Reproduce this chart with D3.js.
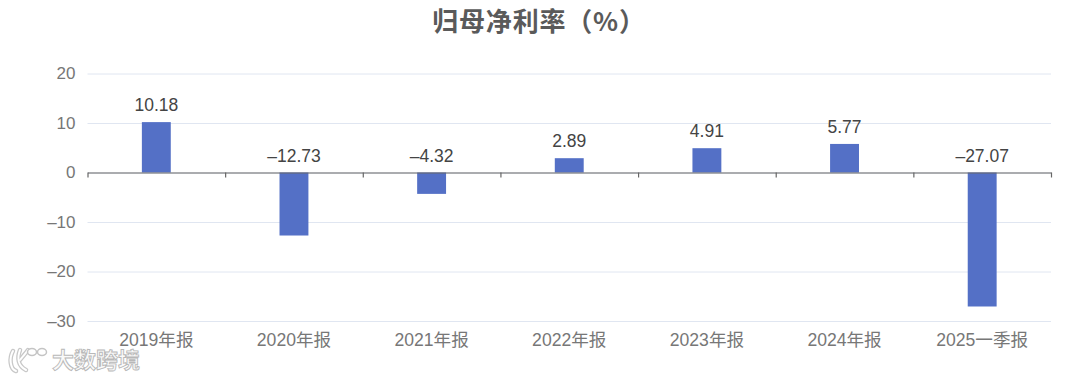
<!DOCTYPE html>
<html>
<head>
<meta charset="utf-8">
<script src="https://cdn.jsdelivr.net/npm/d3@7"></script>
<style>
    html, body { margin: 0; padding: 0; background: #fff; }
    svg { display: block; }
    text { font-family: "Liberation Sans", "Noto Sans CJK SC", sans-serif; }
</style>
</head>
<body>
<svg id="chart" width="1080" height="379"></svg>
<script>
const categories = ['2019年报', '2020年报', '2021年报', '2022年报', '2023年报', '2024年报', '2025一季报'];
const values = [10.18, -12.73, -4.32, 2.89, 4.91, 5.77, -27.07];
const yTicks = [20, 10, 0, -10, -20, -30];
const title = '归母净利率（%）';
const watermark = '大数跨境';

const svg = d3.select('#chart');
const plotLeft = 87.5, plotRight = 1051, plotTop = 73.5, plotBottom = 321;

const x = d3.scaleBand().domain(categories).range([plotLeft, plotRight]).paddingInner(0.79).paddingOuter(0.395);
const y = d3.scaleLinear().domain([-30, 20]).range([plotBottom, plotTop]);
const minus = d => String(d).replace('-', '–');

svg.append('text')
    .attr('x', 539).attr('y', 31)
    .attr('text-anchor', 'middle')
    .style('font-family', '"Noto Sans CJK SC", sans-serif')
    .style('font-size', '26px')
    .style('font-weight', 700)
    .style('letter-spacing', '0.8px')
    .style('fill', '#5a5a5a')
    .text(title);

// grid lines and y labels
const yAxis = svg.append('g')
    .attr('transform', `translate(${plotLeft},0)`)
    .call(d3.axisLeft(y).tickValues(yTicks).tickSize(-(plotRight - plotLeft)).tickPadding(12).tickFormat(minus));
yAxis.select('.domain').remove();
yAxis.selectAll('line').style('stroke', '#e0e6f1').style('stroke-width', 1);
yAxis.selectAll('text').style('font-size', '17px').style('fill', '#777');

// bars
svg.selectAll('rect.bar')
    .data(values)
    .enter().append('rect')
    .attr('class', 'bar')
    .attr('x', (d, i) => x(categories[i]))
    .attr('y', d => y(Math.max(d, 0)))
    .attr('width', x.bandwidth())
    .attr('height', d => Math.abs(y(d) - y(0)))
    .style('fill', '#5470c6');

// zero axis with ticks between the categories
const tickScale = d3.scaleLinear().domain([0, categories.length]).range([plotLeft, plotRight]);
const xTicks = svg.append('g')
    .attr('transform', `translate(0,${y(0)})`)
    .call(d3.axisBottom(tickScale).tickValues(d3.range(categories.length + 1)).tickSize(5).tickSizeOuter(0).tickFormat(''));
xTicks.selectAll('line, path').style('stroke', '#666').style('stroke-width', 1.2);

// category labels
const xAxis = svg.append('g')
    .attr('transform', `translate(0,${plotBottom})`)
    .call(d3.axisBottom(x).tickSize(0).tickPadding(13));
xAxis.select('.domain').remove();
xAxis.selectAll('text').style('font-size', '17.6px').style('fill', '#777');

// value labels, always above the zero line for negatives
svg.selectAll('text.value')
    .data(values)
    .enter().append('text')
    .attr('class', 'value')
    .attr('x', (d, i) => x(categories[i]) + x.bandwidth() / 2)
    .attr('y', d => y(Math.max(d, 0)) - 11)
    .attr('text-anchor', 'middle')
    .style('font-size', '17.5px')
    .style('fill', '#444')
    .text(minus);

// watermark, grey outline under a white core
const mark = svg.append('g');
const logoPaths = [
    'M13,351 C9,358 10,369 16,371',
    'M20,350 C17,358 18,366 26,370',
    'M20,360 C23,356 26,353 28,350'
];
[['#c8c8c8', 4.5], ['#fff', 2]].forEach(([stroke, width]) => {
    mark.append('g').selectAll('path')
        .data(logoPaths)
        .enter().append('path')
        .attr('d', d => d)
        .style('fill', 'none')
        .style('stroke', stroke)
        .style('stroke-width', width)
        .style('stroke-linecap', 'round');
});
mark.selectAll('ellipse')
    .data([[32, 352], [42, 352]])
    .enter().append('ellipse')
    .attr('cx', d => d[0]).attr('cy', d => d[1]).attr('rx', 4.5).attr('ry', 3.5)
    .style('fill', '#fff')
    .style('stroke', '#c4c4c4')
    .style('stroke-width', 1.5);
mark.append('text')
    .attr('x', 52).attr('y', 368)
    .style('font-size', '22px')
    .style('font-weight', 700)
    .style('fill', '#fafafa')
    .style('stroke', '#b8b8b8')
    .style('stroke-width', 0.9)
    .text(watermark);
</script>
</body>
</html>
